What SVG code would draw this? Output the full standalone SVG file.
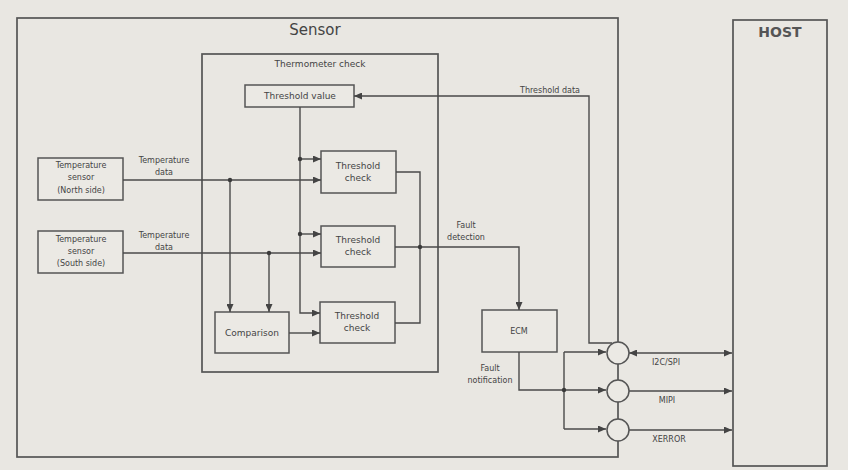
<svg xmlns="http://www.w3.org/2000/svg" width="848" height="470" viewBox="0 0 848 470">
<defs>
<marker id="arr" viewBox="0 0 8 7" markerWidth="8" markerHeight="7" refX="8" refY="3.5" orient="auto-start-reverse" markerUnits="userSpaceOnUse">
<path d="M0,0 L8,3.5 L0,7 z" fill="#444"/>
</marker>
</defs>
<style>
.box{fill:none;stroke:#555;stroke-width:1.7}
.blk{fill:#ebe9e4;stroke:#555;stroke-width:1.5}
.ln{fill:none;stroke:#4a4a4a;stroke-width:1.4}
.ar{marker-end:url(#arr)}
.dot{fill:#3a3a3a}
text{font-family:"DejaVu Sans","Verdana",sans-serif;fill:#444;text-anchor:middle}
.s{font-size:9px}
.xs{font-size:8px}
.big{font-size:15px}
.host{font-size:14px;font-weight:bold;fill:#555}
</style>
<rect x="0" y="0" width="848" height="470" fill="#e9e7e2"/>

<g id="sensor">
<rect class="box" x="17" y="18" width="601" height="439"/>
<text class="big" x="315" y="35">Sensor</text>
</g>
<g id="host">
<rect class="box" x="733" y="20" width="94" height="446"/>
<text class="host" x="780" y="37">HOST</text>
</g>
<g id="thermometer-check">
<rect class="box" x="202" y="54" width="236" height="318"/>
<text class="s" x="320" y="67">Thermometer check</text>
</g>
<g id="threshold-value">
<rect class="blk" x="245" y="85" width="109" height="22"/>
<text class="s" x="300" y="99">Threshold value</text>
</g>
<g id="threshold-check-1">
<rect class="blk" x="321" y="151" width="75" height="42"/>
<text class="s" x="358" y="169">Threshold</text>
<text class="s" x="358" y="181">check</text>
</g>
<g id="threshold-check-2">
<rect class="blk" x="321" y="226" width="74" height="41"/>
<text class="s" x="358" y="243">Threshold</text>
<text class="s" x="358" y="255">check</text>
</g>
<g id="threshold-check-3">
<rect class="blk" x="320" y="302" width="75" height="41"/>
<text class="s" x="357" y="319">Threshold</text>
<text class="s" x="357" y="331">check</text>
</g>
<g id="comparison">
<rect class="blk" x="215" y="312" width="74" height="41"/>
<text class="s" x="252" y="336">Comparison</text>
</g>
<g id="temp-sensor-north">
<rect class="blk" x="38" y="158" width="85" height="42"/>
<text class="xs" x="81" y="168">Temperature</text>
<text class="xs" x="81" y="180">sensor</text>
<text class="xs" x="81" y="193">(North side)</text>
</g>
<g id="temp-sensor-south">
<rect class="blk" x="38" y="231" width="85" height="42"/>
<text class="xs" x="81" y="242">Temperature</text>
<text class="xs" x="81" y="254">sensor</text>
<text class="xs" x="81" y="266">(South side)</text>
</g>
<g id="ecm">
<rect class="blk" x="482" y="310" width="75" height="42"/>
<text class="xs" x="519" y="334">ECM</text>
</g>

<g id="connectors">
<path class="ln ar" d="M123,180 H321"/>
<path class="ln ar" d="M123,253 H321"/>
<path class="ln ar" d="M300,107 V313 H320"/>
<path class="ln ar" d="M300,159 H321"/>
<path class="ln ar" d="M300,234 H321"/>
<path class="ln ar" d="M230,180 V312"/>
<path class="ln ar" d="M269,253 V312"/>
<path class="ln ar" d="M289,333 H320"/>
<path class="ln" d="M396,172 H420 V323 H395"/>
<path class="ln ar" d="M395,247 H519 V310"/>
<path class="ln ar" d="M612,343 H589 V96 H354"/>
<path class="ln ar" d="M519,352 V390 H606"/>
<path class="ln" d="M564,352 V429"/>
<path class="ln ar" d="M564,352 H606"/>
<path class="ln ar" d="M564,429 H606"/>
<path class="ln ar" d="M629,353 H732" marker-start="url(#arr)"/>
<path class="ln ar" d="M629,391 H732"/>
<path class="ln ar" d="M629,430 H732"/>
<circle class="dot" cx="300" cy="159" r="2.2"/>
<circle class="dot" cx="300" cy="234" r="2.2"/>
<circle class="dot" cx="230" cy="180" r="2.2"/>
<circle class="dot" cx="269" cy="253" r="2.2"/>
<circle class="dot" cx="420" cy="247" r="2.2"/>
<circle class="dot" cx="564" cy="390" r="2.2"/>
<text class="xs" x="164" y="163">Temperature</text>
<text class="xs" x="164" y="175">data</text>
<text class="xs" x="164" y="238">Temperature</text>
<text class="xs" x="164" y="250">data</text>
<text class="xs" x="550" y="93">Threshold data</text>
<text class="xs" x="466" y="228">Fault</text>
<text class="xs" x="466" y="240">detection</text>
<text class="xs" x="490" y="371">Fault</text>
<text class="xs" x="490" y="383">notification</text>
<text class="xs" x="666" y="365">I2C/SPI</text>
<text class="xs" x="667" y="403">MIPI</text>
<text class="xs" x="669" y="442">XERROR</text>
</g>

<g id="pins">
<circle class="blk" cx="618" cy="353" r="11"/>
<circle class="blk" cx="618" cy="391" r="11"/>
<circle class="blk" cx="618" cy="430" r="11"/>
</g>
</svg>
